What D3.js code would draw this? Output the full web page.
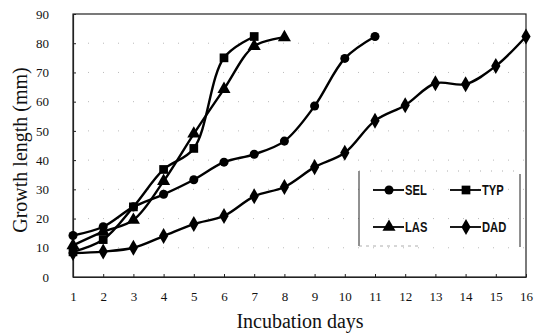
<!DOCTYPE html>
<html><head><meta charset="utf-8">
<script src="https://cdn.jsdelivr.net/npm/d3@7"></script>
<style>body{margin:0;background:#fff}svg{display:block}</style>
</head><body>
<svg id="c" width="542" height="335"></svg>
<script>
const days = [1,2,3,4,5,6,7,8,9,10,11,12,13,14,15,16];
const yTicks = [0,10,20,30,40,50,60,70,80,90];
const seriesNames = ["SEL","TYP","LAS","DAD"];
const SEL = [14.2,17.2,24.0,28.3,33.3,39.3,42.0,46.5,58.5,74.8,82.3];
const TYP = [8.6,12.8,24.0,36.8,44.0,75.0,82.3];
const LAS = [10.8,15.5,19.5,32.8,49.0,64.3,79.0,82.0];
const DAD = [8.2,8.7,10.0,14.0,18.1,20.9,27.6,30.8,37.6,42.5,53.5,58.8,66.3,66.0,72.2,82.3];
const seriesValues = [SEL,TYP,LAS,DAD];
const seriesSymbols = [d3.symbolCircle,d3.symbolSquare,d3.symbolTriangle,d3.symbolDiamond];
const symbolSizes = [64,76,74,74];

const svg = d3.select("#c");
const m = {l:73,t:14,r:526,b:277};
const x = d3.scaleLinear().domain([1,16]).range([m.l,m.r]);
const y = d3.scaleLinear().domain([0,90]).range([m.b,m.t]);

// faint dotted grid
svg.append("g").selectAll("line").data(yTicks.slice(1,-1)).join("line")
  .attr("x1",m.l).attr("x2",m.r).attr("y1",d=>y(d)).attr("y2",d=>y(d))
  .attr("stroke","#aaa").attr("stroke-width",0.8).attr("stroke-dasharray","1,14");

// frame
svg.append("rect").attr("x",m.l).attr("y",m.t).attr("width",m.r-m.l).attr("height",m.b-m.t)
  .attr("fill","none").attr("stroke","#222").attr("stroke-width",1.2);

// axes
const xa = svg.append("g").attr("transform",`translate(0,${m.b})`)
  .call(d3.axisBottom(x).tickValues(days).tickFormat(d3.format("d")).tickSizeInner(-3).tickSizeOuter(0).tickPadding(15));
const ya = svg.append("g").attr("transform",`translate(${m.l},0)`)
  .call(d3.axisLeft(y).tickValues(yTicks).tickSizeInner(-3).tickSizeOuter(0).tickPadding(24));
[xa,ya].forEach(a=>{
  a.select(".domain").attr("stroke","#222").attr("stroke-width",1.2);
  a.selectAll(".tick line").attr("stroke","#222");
  a.selectAll("text").attr("font-family","Liberation Serif, Times New Roman, serif").attr("font-size",13).attr("fill","#111");
});

// titles
svg.append("text").attr("x",300).attr("y",328).attr("text-anchor","middle")
  .attr("font-family","Liberation Serif, Times New Roman, serif").attr("font-size",20).attr("fill","#111")
  .text("Incubation days");
svg.append("text").attr("transform","translate(27,150) rotate(-90)").attr("text-anchor","middle")
  .attr("font-family","Liberation Serif, Times New Roman, serif").attr("font-size",20).attr("fill","#111")
  .text("Growth length (mm)");

// lines
const line = d3.line().x((d,i)=>x(days[i])).y(d=>y(d)).curve(d3.curveCatmullRom.alpha(0.5));
seriesValues.forEach((vals,k)=>{
  svg.append("path").attr("d",line(vals)).attr("fill","none").attr("stroke","#000").attr("stroke-width",2.4);
  svg.append("g").selectAll("path").data(vals).join("path")
    .attr("transform",(d,i)=>`translate(${x(days[i])},${y(d)})`)
    .attr("d",d3.symbol().type(seriesSymbols[k]).size(symbolSizes[k])).attr("fill","#000");
});

// legend
const lg = svg.append("g");
lg.append("line").attr("x1",359).attr("x2",359).attr("y1",171).attr("y2",246).attr("stroke","#222").attr("stroke-width",1);
lg.append("line").attr("x1",520).attr("x2",520).attr("y1",174).attr("y2",247).attr("stroke","#222").attr("stroke-width",1);
lg.append("line").attr("x1",359).attr("x2",520).attr("y1",171).attr("y2",171).attr("stroke","#999").attr("stroke-width",0.8).attr("stroke-dasharray","1,10");
lg.append("line").attr("x1",359).attr("x2",420).attr("y1",246).attr("y2",246).attr("stroke","#999").attr("stroke-width",0.8).attr("stroke-dasharray","3,4");
const lpos = [[373,190],[450,190],[373,227],[450,227]];
seriesNames.forEach((n,k)=>{
  const [lx,ly]=lpos[k];
  lg.append("line").attr("x1",lx).attr("x2",lx+31).attr("y1",ly).attr("y2",ly).attr("stroke","#000").attr("stroke-width",1.8);
  lg.append("path").attr("transform",`translate(${lx+16},${ly})`)
    .attr("d",d3.symbol().type(seriesSymbols[k]).size(symbolSizes[k])).attr("fill","#000");
  lg.append("text").attr("transform",`translate(${lx+32},${ly+5}) scale(0.8,1)`).text(n)
    .attr("font-family","Liberation Sans, Arial, sans-serif")
    .attr("font-size",14).attr("font-weight","bold").attr("fill","#111");
});
</script>
</body></html>
